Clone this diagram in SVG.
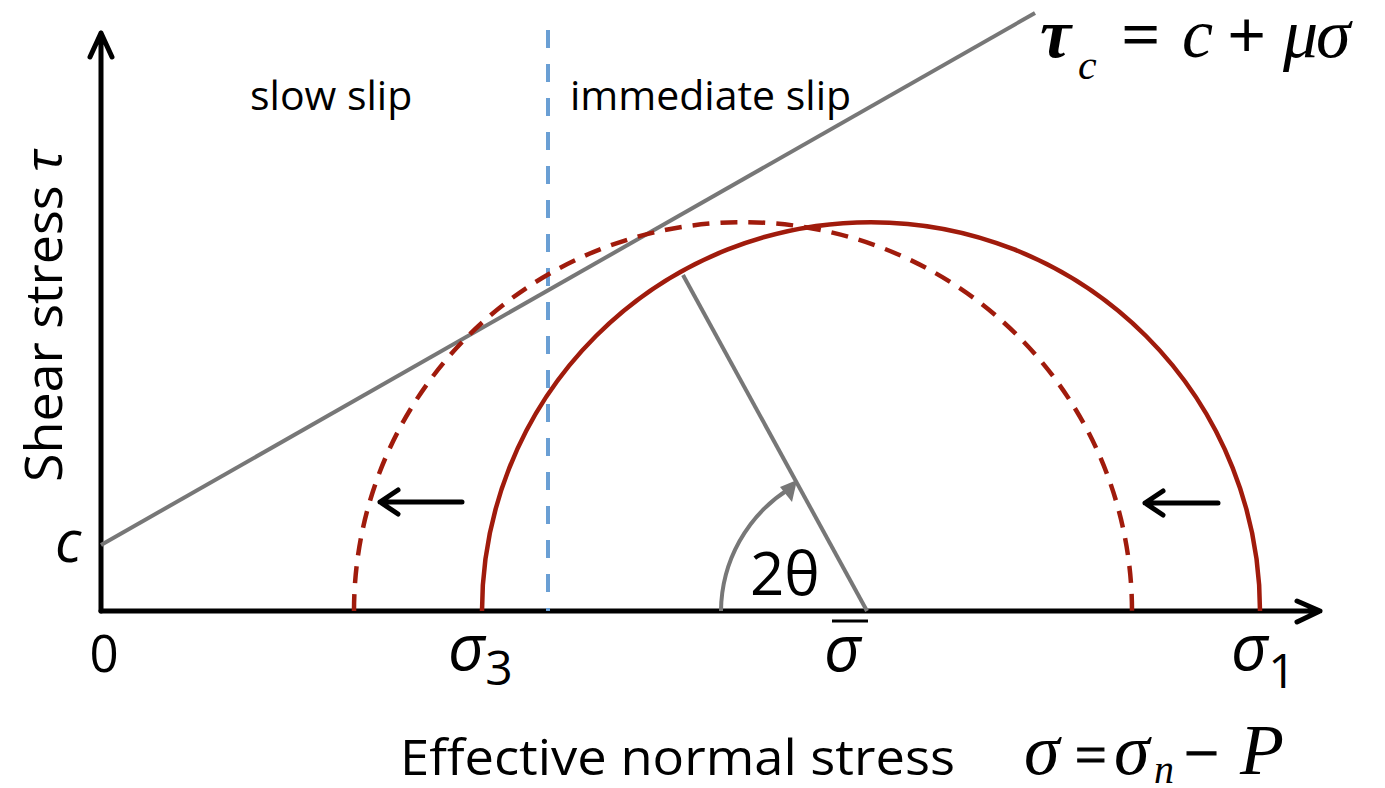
<svg xmlns="http://www.w3.org/2000/svg" width="1385" height="788" viewBox="0 0 1385 788">
<style>
.ax{stroke:#000;stroke-width:5;fill:none;stroke-linecap:round;stroke-linejoin:round}
.red{stroke:#a01b0c;stroke-width:4.5;fill:none}
.gray{stroke:#777;stroke-width:4;fill:none}
.lbl{font-family:"Open Sans","Noto Sans",sans-serif;fill:#000}
.math{font-family:"Liberation Serif","DejaVu Serif",serif;font-style:italic;fill:#000}
.op{font-style:normal;stroke:#000;stroke-width:1.2}
</style>
<rect width="1385" height="788" fill="#fff"/>
<g id="connectors">
  <path class="ax" d="M101 611 L101 33 M90 57 L101 33 L112 57"/>
  <path class="ax" d="M101 611 L1320 611 M1297 601 L1320 611 L1297 622"/>
  <line x1="548" y1="30" x2="548" y2="611" stroke="#6a9fd4" stroke-width="4" stroke-dasharray="18 16"/>
  <line class="gray" x1="101" y1="545" x2="1035" y2="13"/>
  <path class="red" d="M482 611 A389 389 0 0 1 1260 611"/>
  <path class="red" stroke-dasharray="17 11" d="M354 611 A389 389 0 0 1 1132 611"/>
  <line class="gray" x1="867" y1="611" x2="683" y2="275"/>
  <path class="gray" d="M721 611 A146 146 0 0 1 789 489"/>
  <polygon points="797,480 780,487 792,502" fill="#777"/>
  <path class="ax" d="M462 502 L380 502 M398 490 L380 502 L398 514"/>
  <path class="ax" d="M1218 503 L1145 503 M1163 491 L1145 503 L1163 515"/>
</g>
<g id="labels">
  <text class="lbl" x="250" y="110" font-size="41">slow slip</text>
  <text class="lbl" x="570" y="110" font-size="41">immediate slip</text>
  <text class="lbl" font-size="52" transform="translate(62 482) rotate(-90)">Shear stress <tspan font-style="italic">τ</tspan></text>
  <text class="lbl" x="55" y="562" font-size="58" font-style="italic">c</text>
  <text class="lbl" x="104" y="672" font-size="51" text-anchor="middle">0</text>
  <text class="lbl" x="448" y="670" font-size="64" font-style="italic">σ<tspan font-size="48" font-style="normal" dy="15">3</tspan></text>
  <text class="lbl" x="824" y="671" font-size="64" font-style="italic">σ</text>
  <line x1="832" y1="621" x2="868" y2="621" stroke="#000" stroke-width="3"/>
  <text class="lbl" x="1231" y="670" font-size="64" font-style="italic">σ<tspan font-size="48" font-style="normal" dy="18">1</tspan></text>
  <text class="lbl" x="750" y="595" font-size="60">2θ</text>
  <text class="lbl" x="400" y="775" font-size="50" textLength="555" lengthAdjust="spacingAndGlyphs">Effective normal stress</text>
  <text id="eq-bottom" class="math" y="774" font-size="72"><tspan x="1024">σ</tspan><tspan class="op" x="1075" font-size="56">=</tspan><tspan x="1114">σ</tspan><tspan x="1154" y="783" font-size="40">n</tspan><tspan class="op" x="1184" y="774" font-size="62">−</tspan><tspan x="1240">P</tspan></text>
  <text id="eq-top" class="math" y="57" font-size="70"><tspan x="1040" font-weight="bold">τ</tspan><tspan x="1078" y="79" font-size="42">c</tspan><tspan class="op" x="1122" y="57" font-size="66">=</tspan><tspan x="1182">c</tspan><tspan class="op" x="1228" font-size="66">+</tspan><tspan x="1283">μ</tspan><tspan x="1316">σ</tspan></text>
</g>
</svg>
